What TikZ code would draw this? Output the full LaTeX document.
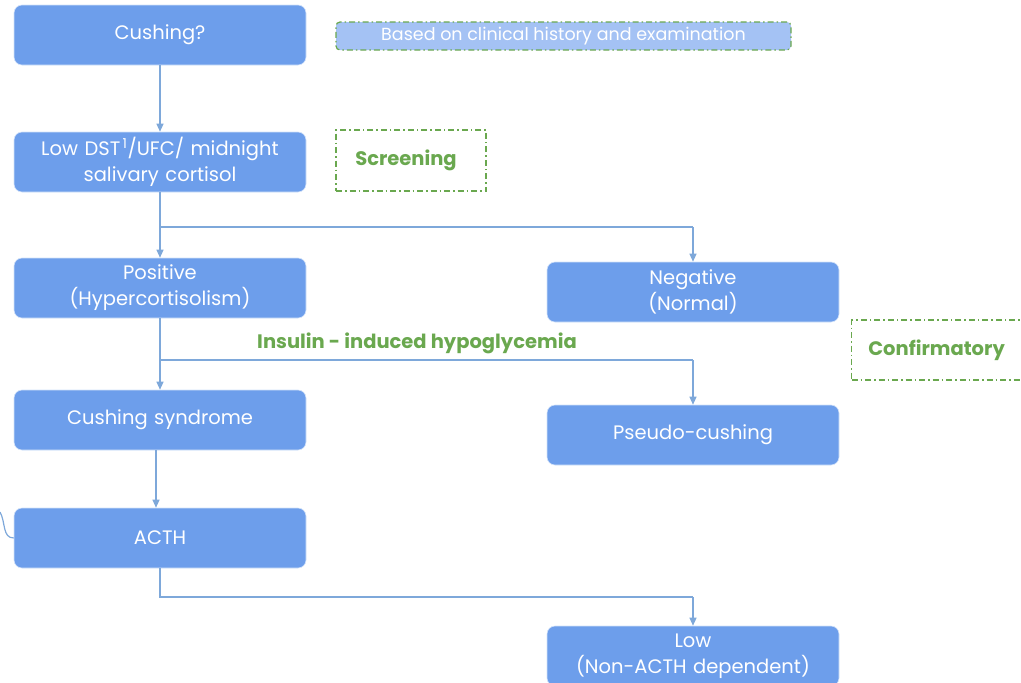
\documentclass[tikz,border=0pt]{standalone}
\usepackage{fontspec}
\setmainfont{Poppins}
\usetikzlibrary{arrows.meta}
\definecolor{boxblue}{HTML}{6D9EEB}
\definecolor{lightblue}{HTML}{A4C2F4}
\definecolor{linkblue}{HTML}{7EA8DA}
\definecolor{gr}{HTML}{6AA84F}
\tikzset{
  stepbox/.style={draw=white!70!boxblue, line width=0.6pt, fill=boxblue, rounded corners=8pt,
    minimum width=292pt, minimum height=60pt, text width=288pt, align=center,
    text=white, font=\fontsize{19.5}{26}\selectfont, inner sep=0pt},
  notebox/.style={draw=gr, line width=1.2pt, dash pattern=on 6pt off 3pt on 1.5pt off 3pt,
    inner sep=0pt, text=gr, font=\fontsize{19.5}{24}\selectfont\bfseries},
  link/.style={draw=linkblue, line width=1.2pt, -{Triangle[length=8pt,width=7pt]}},
  plain/.style={draw=linkblue, line width=1.2pt}
}
\begin{document}
\begin{tikzpicture}[x=1pt,y=-1pt]
\useasboundingbox (0,0) rectangle (1021,683);
\node[stepbox] (cush) at (160,35) {Cushing?};
\node[stepbox] (dst) at (160,162) {Low DST\textsuperscript{\,1}/UFC/ midnight\\salivary cortisol};
\node[stepbox] (pos) at (160,288) {Positive\\(Hypercortisolism)};
\node[stepbox] (syn) at (160,420) {Cushing syndrome};
\node[stepbox] (acth) at (160,538) {ACTH};
\node[stepbox] (neg) at (693,292) {Negative\\(Normal)};
\node[stepbox] (pseudo) at (693,435) {Pseudo-cushing};
\node[stepbox] (low) at (693,656) {Low\\(Non-ACTH dependent)};
\node[notebox, fill=lightblue, rounded corners=4pt, minimum width=455pt, minimum height=28pt,
  text=white, font=\fontsize{17.5}{20}\selectfont] (based) at (563.5,36) {Based on clinical history and examination};
\node[notebox, fill=white, minimum width=150pt, minimum height=61pt] (scr) at (411,160.5) {\hspace*{-10pt}Screening};
\node[notebox, fill=white, minimum width=180pt, minimum height=60pt, anchor=west] (conf) at (851,350) {\hspace*{-10pt}Confirmatory};
\node[text=gr, font=\fontsize{19.5}{24}\selectfont\bfseries, inner sep=0pt] (ins) at (417,343) {Insulin - induced hypoglycemia};
\coordinate (b1) at (160,227);
\coordinate (b2) at (693,227);
\coordinate (c1) at (160,360);
\coordinate (c2) at (693,360);
\coordinate (d1) at (160,597);
\coordinate (d2) at (693,597);
\coordinate (arcstart) at (0,512);
\draw[link] (cush) -- (dst);
\draw[link] (dst) -- (pos);
\draw[plain] (b1) -- (b2);
\draw[link] (b2) -- (neg);
\draw[link] (pos) -- (syn);
\draw[plain] (c1) -- (c2);
\draw[link] (c2) -- (pseudo);
\draw[link] ([xshift=-4pt]syn.south) -- ([xshift=-4pt]acth.north);
\draw[plain] (acth.south) -- (d1) -- (d2);
\draw[link] (d2) -- (low.north);
\draw[plain] (arcstart) to[out=-60,in=180] (acth.west);
\end{tikzpicture}
\end{document}
